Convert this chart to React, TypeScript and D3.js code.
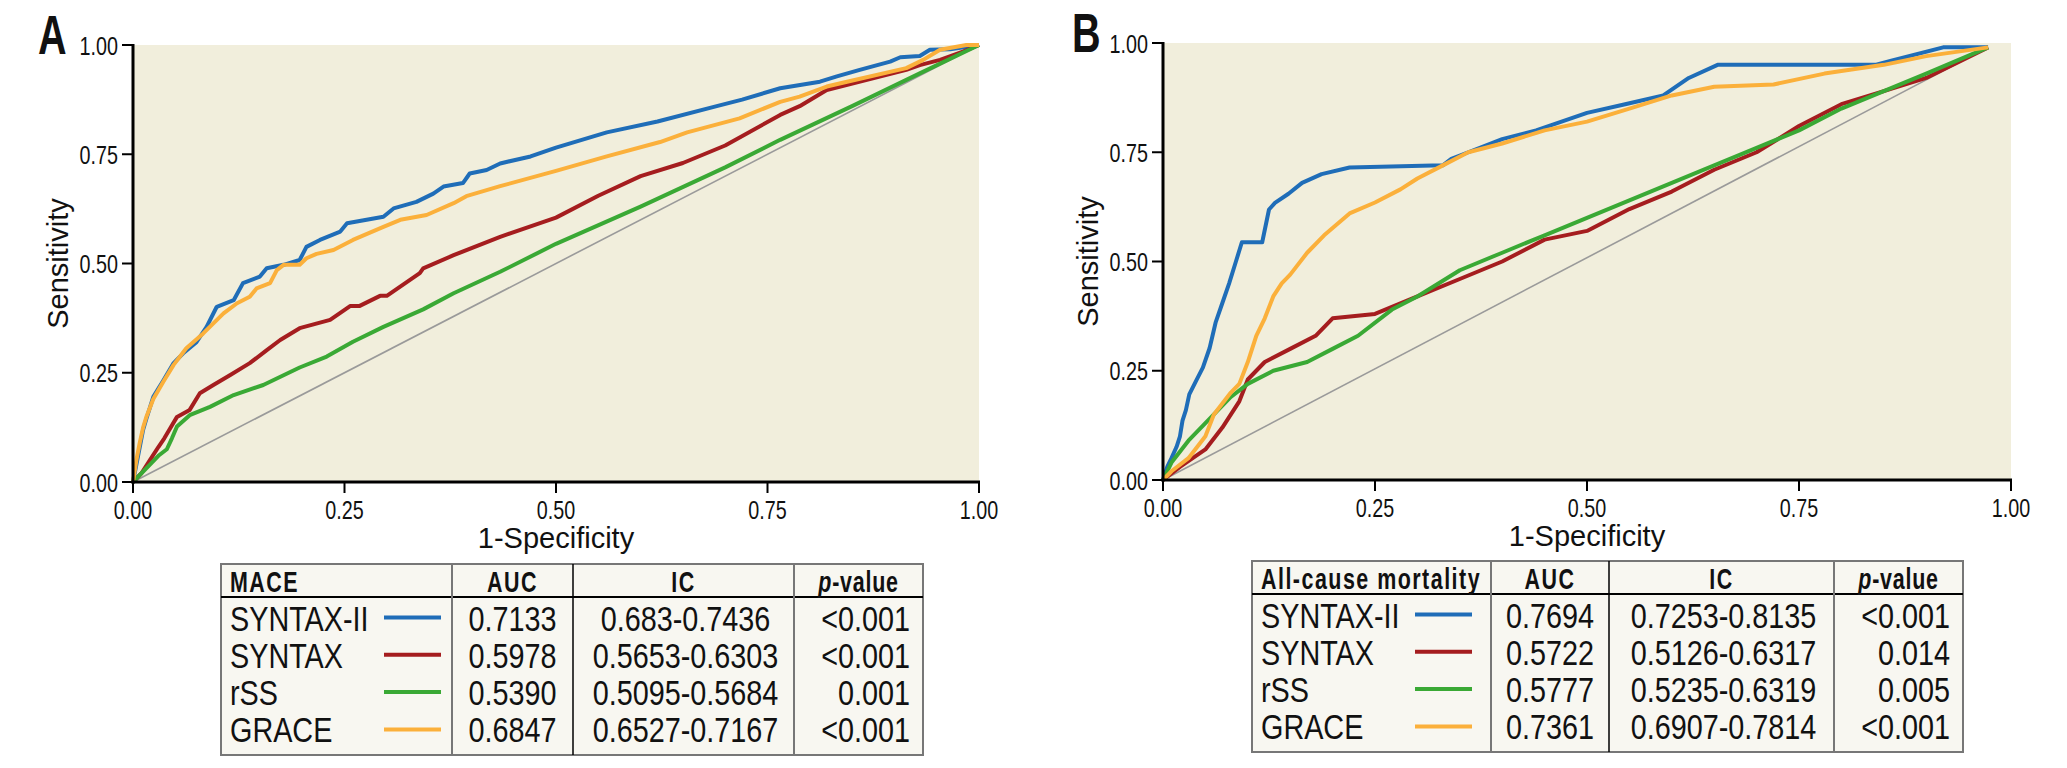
import * as d3 from "d3";

type Pt = [number, number];

// ---- ROC curve points (x = 1-specificity, y = sensitivity)
const maceSyntax2: Pt[] = [
  [0, 0], [0.004, 0.04], [0.008, 0.08], [0.012, 0.12], [0.016, 0.146], [0.024, 0.195], [0.036, 0.233],
  [0.048, 0.272], [0.059, 0.294], [0.075, 0.32], [0.087, 0.355], [0.099, 0.401], [0.119, 0.416],
  [0.13, 0.455], [0.15, 0.47], [0.158, 0.489], [0.178, 0.497], [0.197, 0.508], [0.205, 0.538],
  [0.221, 0.554], [0.245, 0.573], [0.253, 0.592], [0.296, 0.607], [0.308, 0.626], [0.335, 0.641],
  [0.355, 0.66], [0.367, 0.676], [0.39, 0.684], [0.398, 0.706], [0.418, 0.714], [0.434, 0.729],
  [0.47, 0.745], [0.5, 0.765], [0.56, 0.8], [0.62, 0.825], [0.69, 0.86], [0.72, 0.875], [0.765, 0.901],
  [0.812, 0.916], [0.832, 0.928], [0.859, 0.943], [0.895, 0.962], [0.907, 0.972], [0.93, 0.975],
  [0.942, 0.989], [0.966, 0.99], [1, 1],
];
const maceSyntax: Pt[] = [
  [0, 0], [0.01, 0.02], [0.02, 0.05], [0.03, 0.08], [0.037, 0.1], [0.044, 0.123], [0.052, 0.149],
  [0.067, 0.165], [0.079, 0.203], [0.095, 0.222], [0.115, 0.245], [0.138, 0.272], [0.157, 0.3],
  [0.174, 0.325], [0.197, 0.352], [0.233, 0.371], [0.257, 0.403], [0.268, 0.403], [0.292, 0.426],
  [0.3, 0.426], [0.339, 0.478], [0.343, 0.489], [0.379, 0.519], [0.434, 0.561], [0.5, 0.605],
  [0.55, 0.655], [0.6, 0.7], [0.65, 0.73], [0.7, 0.77], [0.765, 0.84], [0.788, 0.86], [0.82, 0.897],
  [0.914, 0.943], [0.93, 0.954], [0.954, 0.966], [0.981, 0.985], [1, 1],
];
const maceRss: Pt[] = [
  [0, 0], [0.01, 0.02], [0.02, 0.04], [0.03, 0.06], [0.04, 0.075], [0.046, 0.1], [0.052, 0.127],
  [0.067, 0.153], [0.091, 0.172], [0.119, 0.199], [0.154, 0.222], [0.197, 0.262], [0.229, 0.287],
  [0.26, 0.321], [0.296, 0.355], [0.343, 0.395], [0.379, 0.432], [0.434, 0.481], [0.5, 0.545],
  [0.6, 0.63], [0.7, 0.72], [0.765, 0.783], [0.85, 0.86], [0.93, 0.935], [1, 1],
];
const maceGrace: Pt[] = [
  [0, 0], [0.004, 0.05], [0.008, 0.09], [0.012, 0.125], [0.016, 0.15], [0.024, 0.19], [0.036, 0.23],
  [0.048, 0.268], [0.063, 0.306], [0.083, 0.34], [0.107, 0.386], [0.123, 0.409], [0.138, 0.424],
  [0.146, 0.443], [0.162, 0.455], [0.17, 0.485], [0.178, 0.497], [0.197, 0.497], [0.205, 0.512],
  [0.217, 0.522], [0.237, 0.531], [0.26, 0.554], [0.296, 0.584], [0.316, 0.6], [0.347, 0.611],
  [0.379, 0.638], [0.394, 0.654], [0.434, 0.677], [0.5, 0.712], [0.56, 0.745], [0.623, 0.778],
  [0.655, 0.8], [0.717, 0.832], [0.765, 0.87], [0.788, 0.882], [0.82, 0.905], [0.844, 0.916],
  [0.914, 0.947], [0.934, 0.966], [0.954, 0.989], [0.985, 1], [1, 1],
];
const maceRef: Pt[] = [[0, 0], [1, 1]];

const mortSyntax2: Pt[] = [
  [0, 0], [0.005, 0.03], [0.01, 0.05], [0.016, 0.076], [0.02, 0.1], [0.023, 0.136], [0.027, 0.16],
  [0.031, 0.196], [0.039, 0.227], [0.047, 0.257], [0.055, 0.302], [0.062, 0.36], [0.07, 0.405],
  [0.078, 0.45], [0.086, 0.5], [0.093, 0.544], [0.117, 0.544], [0.125, 0.619], [0.132, 0.634],
  [0.148, 0.655], [0.164, 0.68], [0.187, 0.7], [0.22, 0.715], [0.33, 0.72], [0.34, 0.735],
  [0.36, 0.75], [0.4, 0.78], [0.44, 0.8], [0.47, 0.82], [0.5, 0.84], [0.545, 0.86], [0.59, 0.88],
  [0.62, 0.92], [0.654, 0.95], [0.84, 0.95], [0.86, 0.96], [0.92, 0.99], [0.973, 0.99],
];
const mortSyntax: Pt[] = [
  [0, 0], [0.02, 0.03], [0.05, 0.07], [0.07, 0.12], [0.09, 0.18], [0.1, 0.23], [0.12, 0.27],
  [0.15, 0.3], [0.18, 0.33], [0.2, 0.37], [0.25, 0.38], [0.3, 0.42], [0.35, 0.46], [0.4, 0.5],
  [0.45, 0.55], [0.5, 0.57], [0.55, 0.62], [0.6, 0.66], [0.65, 0.71], [0.7, 0.75], [0.75, 0.81],
  [0.8, 0.86], [0.85, 0.89], [0.9, 0.92], [0.973, 0.99],
];
const mortRss: Pt[] = [
  [0, 0], [0.01, 0.04], [0.03, 0.09], [0.05, 0.13], [0.08, 0.19], [0.1, 0.22], [0.13, 0.25],
  [0.17, 0.27], [0.2, 0.3], [0.23, 0.33], [0.27, 0.39], [0.3, 0.42], [0.35, 0.48], [0.4, 0.52],
  [0.45, 0.56], [0.5, 0.6], [0.55, 0.64], [0.6, 0.68], [0.65, 0.72], [0.7, 0.76], [0.75, 0.8],
  [0.8, 0.85], [0.85, 0.89], [0.9, 0.93], [0.973, 0.99],
];
const mortGrace: Pt[] = [
  [0, 0], [0.01, 0.02], [0.03, 0.05], [0.05, 0.1], [0.06, 0.15], [0.08, 0.2], [0.09, 0.22],
  [0.1, 0.27], [0.11, 0.33], [0.12, 0.37], [0.13, 0.42], [0.14, 0.45], [0.15, 0.47], [0.17, 0.52],
  [0.19, 0.56], [0.22, 0.61], [0.25, 0.635], [0.28, 0.665], [0.3, 0.69], [0.33, 0.72], [0.36, 0.75],
  [0.4, 0.77], [0.45, 0.8], [0.5, 0.82], [0.55, 0.85], [0.6, 0.88], [0.65, 0.9], [0.72, 0.905],
  [0.78, 0.93], [0.85, 0.95], [0.9, 0.97], [0.973, 0.99],
];
const mortRef: Pt[] = [[0, 0], [0.973, 0.99]];

// ---- table contents
const scoreNames = ["SYNTAX-II", "SYNTAX", "rSS", "GRACE"];
const scoreColors = ["#1f6db8", "#a51d1f", "#3aa935", "#fbb03b"];
const ticks = [0, 0.25, 0.5, 0.75, 1];
const maceAuc = ["0.7133", "0.5978", "0.5390", "0.6847"];
const maceIc = ["0.683-0.7436", "0.5653-0.6303", "0.5095-0.5684", "0.6527-0.7167"];
const maceP = ["<0.001", "<0.001", "0.001", "<0.001"];
const mortAuc = ["0.7694", "0.5722", "0.5777", "0.7361"];
const mortIc = ["0.7253-0.8135", "0.5126-0.6317", "0.5235-0.6319", "0.6907-0.7814"];
const mortP = ["<0.001", "0.014", "0.005", "<0.001"];

const COND = "'Liberation Sans', Arial, sans-serif";

function CText({ x, y, size, anchor = "start", weight = "normal", sx = 0.75, spacing = 0, children }: any) {
  return (
    <text
      transform={`translate(${x},${y}) scale(${sx},1)`}
      fontFamily={COND}
      fontSize={size}
      fontWeight={weight}
      textAnchor={anchor}
      letterSpacing={spacing}
      fill="#111"
    >
      {children}
    </text>
  );
}

interface PanelProps {
  letter: string;
  letterX: number;
  left: number;
  right: number;
  top: number;
  bottom: number;
  series: Pt[][];
  ref0: Pt[];
}

function Panel({ letter, letterX, left, right, top, bottom, series, ref0 }: PanelProps) {
  const x = d3.scaleLinear().domain([0, 1]).range([left, right]);
  const y = d3.scaleLinear().domain([0, 1]).range([bottom, top]);
  const line = d3.line<Pt>().x((d) => x(d[0])).y((d) => y(d[1]));
  return (
    <g>
      <rect x={x(0)} y={y(1)} width={x(1) - x(0)} height={y(0) - y(1)} fill="#f1eedc" />
      <path d={line(ref0) || ""} fill="none" stroke="#9a9a9a" strokeWidth={1.6} />
      {series.map((s, i) => (
        <path
          key={i}
          d={line(s) || ""}
          fill="none"
          stroke={scoreColors[i]}
          strokeWidth={4}
          strokeLinejoin="round"
        />
      ))}
      <line x1={x(0)} x2={x(0)} y1={y(1) - 1} y2={y(0) + 1.5} stroke="#000" strokeWidth={3} />
      <line x1={x(0) - 1.5} x2={x(1) + 1} y1={y(0)} y2={y(0)} stroke="#000" strokeWidth={3} />
      {ticks.map((t) => (
        <g key={"y" + t}>
          <line x1={x(0) - 11} x2={x(0)} y1={y(t)} y2={y(t)} stroke="#000" strokeWidth={2} />
          <CText x={x(0) - 15} y={y(t) + 9.5} size={26} anchor="end" sx={0.76}>
            {t.toFixed(2)}
          </CText>
        </g>
      ))}
      {ticks.map((t) => (
        <g key={"x" + t}>
          <line x1={x(t)} x2={x(t)} y1={y(0)} y2={y(0) + 11} stroke="#000" strokeWidth={2} />
          <CText x={x(t)} y={y(0) + 37} size={26} anchor="middle" sx={0.76}>
            {t.toFixed(2)}
          </CText>
        </g>
      ))}
      <text
        transform={`translate(${x(0) - 75},${(y(0) + y(1)) / 2}) rotate(-90)`}
        textAnchor="middle"
        fontFamily="'Liberation Sans', Arial, sans-serif"
        fontSize={29}
        dy="0.35em"
        fill="#111"
      >
        Sensitivity
      </text>
      <text
        x={x(0.5)}
        y={y(0) + 66}
        textAnchor="middle"
        fontFamily="'Liberation Sans', Arial, sans-serif"
        fontSize={29}
        fill="#111"
      >
        1-Specificity
      </text>
      <CText x={letterX} y={top + 9} size={55} weight="bold" sx={0.72}>
        {letter}
      </CText>
    </g>
  );
}

interface TableProps {
  left: number;
  top: number;
  cols: number[]; // divider offsets from left, last = right edge
  title: string;
  auc: string[];
  ic: string[];
  p: string[];
}

function ResultTable({ left, top, cols, title, auc, ic, p }: TableProps) {
  const [c1, c2, c3, c4] = cols.map((c) => left + c);
  const headH = 33;
  const rowH = 37.3;
  const bottom = top + 191;
  return (
    <g>
      <rect x={left} y={top} width={c4 - left} height={bottom - top} fill="#f8f7f1" stroke="#777" strokeWidth={2} />
      <line x1={left} x2={c4} y1={top + headH} y2={top + headH} stroke="#000" strokeWidth={1.8} />
      <line x1={c1} x2={c1} y1={top} y2={bottom} stroke="#777" strokeWidth={2} />
      <line x1={c2} x2={c2} y1={top} y2={bottom} stroke="#000" strokeWidth={1.5} />
      <line x1={c3} x2={c3} y1={top} y2={bottom} stroke="#777" strokeWidth={2} />
      <CText x={left + 9} y={top + 28} size={29} weight="bold" sx={0.74} spacing={2}>
        {title}
      </CText>
      <CText x={(c1 + c2) / 2} y={top + 28} size={29} weight="bold" anchor="middle" sx={0.74} spacing={2}>
        AUC
      </CText>
      <CText x={(c2 + c3) / 2} y={top + 28} size={29} weight="bold" anchor="middle" sx={0.74} spacing={2}>
        IC
      </CText>
      <CText x={(c3 + c4) / 2} y={top + 28} size={29} weight="bold" anchor="middle" sx={0.74} spacing={1}>
        <tspan fontStyle="italic">p</tspan>-value
      </CText>
      {scoreNames.map((name, i) => {
        const base = top + 66.5 + i * rowH;
        return (
          <g key={name}>
            <CText x={left + 9} y={base} size={36} sx={0.8}>
              {name}
            </CText>
            <line x1={left + 163} x2={left + 220} y1={base - 13} y2={base - 13} stroke={scoreColors[i]} strokeWidth={4} />
            <CText x={(c1 + c2) / 2} y={base} size={36} anchor="middle" sx={0.8}>
              {auc[i]}
            </CText>
            <CText x={(c2 + c3) / 2 + 2} y={base} size={36} anchor="middle" sx={0.8}>
              {ic[i]}
            </CText>
            <CText x={c4 - 13} y={base} size={36} anchor="end" sx={0.8}>
              {p[i]}
            </CText>
          </g>
        );
      })}
    </g>
  );
}

export default function App() {
  return (
    <div style={{ position: "absolute", left: 0, top: 0 }}>
      <svg width={2067} height={768} style={{ display: "block", background: "#fff" }}>
        <Panel
          letter="A"
          letterX={38}
          left={133}
          right={979}
          top={45}
          bottom={482}
          series={[maceSyntax2, maceSyntax, maceRss, maceGrace]}
          ref0={maceRef}
        />
        <Panel
          letter="B"
          letterX={1072}
          left={1163}
          right={2011}
          top={43}
          bottom={480}
          series={[mortSyntax2, mortSyntax, mortRss, mortGrace]}
          ref0={mortRef}
        />
        <ResultTable
          left={221}
          top={564}
          cols={[231, 352, 573, 702]}
          title="MACE"
          auc={maceAuc}
          ic={maceIc}
          p={maceP}
        />
        <ResultTable
          left={1252}
          top={561}
          cols={[239, 357, 582, 711]}
          title="All-cause mortality"
          auc={mortAuc}
          ic={mortIc}
          p={mortP}
        />
      </svg>
    </div>
  );
}
